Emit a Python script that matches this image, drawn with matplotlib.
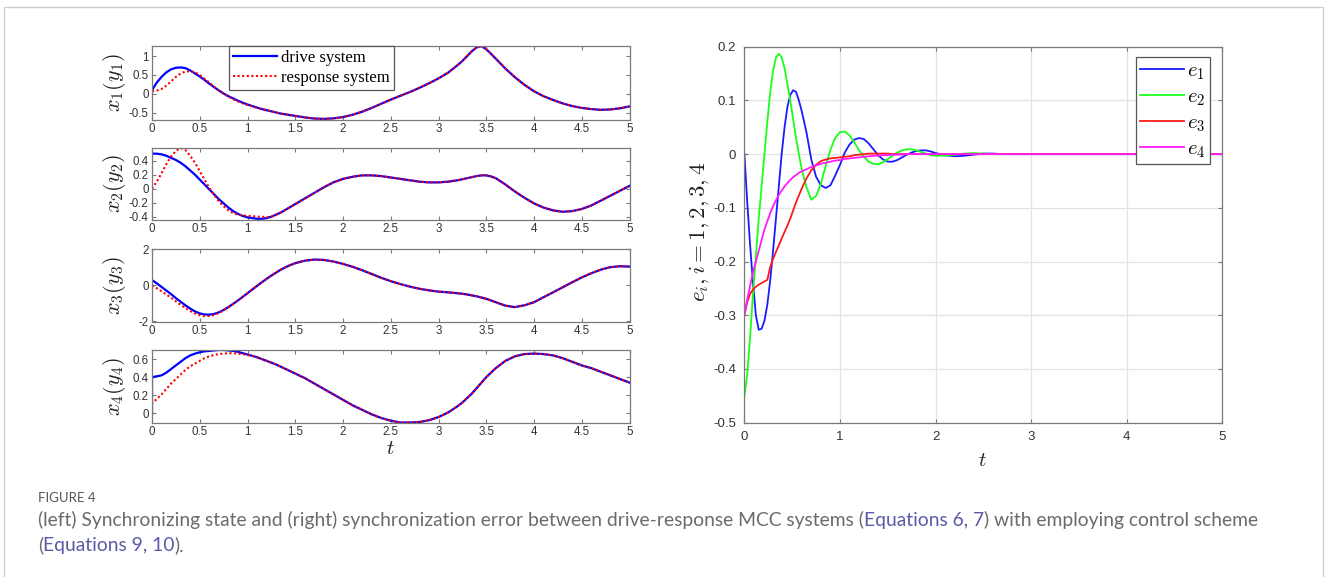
import matplotlib
matplotlib.use('Agg')
import matplotlib.pyplot as plt
from matplotlib.patches import Rectangle
from matplotlib.ticker import FuncFormatter

plt.rcParams['mathtext.fontset'] = 'cm'
plt.rcParams['font.family'] = ['Liberation Sans', 'DejaVu Sans']
plt.rcParams['axes.unicode_minus'] = False

W, H = 1327, 577

# ---------------- data: left panels (drive / response states) ----------------
T_L = [0.00, 0.05, 0.10, 0.15, 0.20, 0.25, 0.30, 0.35, 0.40, 0.45, 0.50, 0.55, 0.60, 0.65, 0.70, 0.75,
       0.80, 0.85, 0.90, 0.95, 1.00, 1.05, 1.10, 1.15, 1.20, 1.25, 1.30, 1.35, 1.40, 1.45, 1.50,
       1.6, 1.7, 1.8, 1.9, 2.0, 2.1, 2.2, 2.3, 2.4, 2.5, 2.6, 2.7, 2.8, 2.9, 3.0, 3.1, 3.2,
       3.25, 3.30, 3.35, 3.40, 3.45, 3.50, 3.55, 3.60,
       3.7, 3.8, 3.9, 4.0, 4.1, 4.2, 4.3, 4.4, 4.5, 4.6, 4.7, 4.8, 4.9, 5.0]

X1_DRIVE = [0.10, 0.30, 0.45, 0.57, 0.65, 0.69, 0.70, 0.68, 0.62, 0.54, 0.46, 0.37, 0.27, 0.18, 0.09, 0.01,
            -0.06, -0.12, -0.18, -0.23, -0.28, -0.32, -0.36, -0.40, -0.43, -0.46, -0.49, -0.52, -0.54, -0.56, -0.58,
            -0.62, -0.65, -0.66, -0.645, -0.61, -0.55, -0.47, -0.37, -0.26, -0.15, -0.05, 0.05, 0.16, 0.28, 0.41, 0.56, 0.76,
            0.87, 1.00, 1.13, 1.23, 1.26, 1.18, 1.06, 0.93,
            0.67, 0.44, 0.24, 0.07, -0.06, -0.16, -0.25, -0.32, -0.37, -0.40, -0.42, -0.41, -0.38, -0.33]
X1_RESP_EARLY = [0.07, 0.09, 0.13, 0.22, 0.33, 0.45, 0.54, 0.59, 0.60, 0.57, 0.50, 0.40, 0.30, 0.19, 0.09, 0.00,
                 -0.07, -0.14, -0.20, -0.25, -0.29, -0.33, -0.37, -0.40, -0.43, -0.46, -0.49, -0.52, -0.54, -0.56, -0.58]

X2_DRIVE = [0.50, 0.50, 0.49, 0.47, 0.44, 0.41, 0.37, 0.32, 0.26, 0.20, 0.13, 0.06, -0.01, -0.08, -0.15, -0.21,
            -0.27, -0.32, -0.36, -0.39, -0.41, -0.42, -0.43, -0.43, -0.42, -0.40, -0.37, -0.34, -0.30, -0.26, -0.22,
            -0.14, -0.06, 0.02, 0.09, 0.14, 0.17, 0.19, 0.19, 0.18, 0.16, 0.14, 0.12, 0.10, 0.09, 0.09, 0.10, 0.12,
            0.135, 0.15, 0.165, 0.18, 0.19, 0.19, 0.175, 0.15,
            0.06, -0.04, -0.13, -0.21, -0.27, -0.31, -0.33, -0.32, -0.29, -0.24, -0.17, -0.10, -0.03, 0.04]
X2_RESP_EARLY = [0.00, 0.10, 0.22, 0.35, 0.46, 0.54, 0.58, 0.55, 0.47, 0.37, 0.25, 0.13, 0.01, -0.09, -0.18, -0.25,
                 -0.31, -0.35, -0.37, -0.38, -0.39, -0.39, -0.40, -0.40, -0.41, -0.40, -0.37, -0.34, -0.30, -0.26, -0.22]

X3_DRIVE = [0.30, 0.12, -0.08, -0.28, -0.48, -0.70, -0.90, -1.10, -1.28, -1.44, -1.55, -1.61, -1.62, -1.58, -1.49, -1.36,
            -1.20, -1.02, -0.83, -0.63, -0.43, -0.22, -0.02, 0.18, 0.37, 0.55, 0.72, 0.88, 1.02, 1.14, 1.24,
            1.38, 1.44, 1.42, 1.33, 1.20, 1.04, 0.85, 0.64, 0.43, 0.24, 0.08, -0.06, -0.18, -0.27, -0.34, -0.38, -0.43,
            -0.46, -0.50, -0.55, -0.60, -0.67, -0.74, -0.83, -0.93,
            -1.12, -1.20, -1.10, -0.93, -0.65, -0.38, -0.10, 0.18, 0.45, 0.68, 0.88, 1.02, 1.07, 1.05]
X3_RESP_EARLY = [0.00, -0.15, -0.32, -0.50, -0.68, -0.88, -1.07, -1.25, -1.42, -1.55, -1.65, -1.70, -1.70, -1.64, -1.53, -1.38,
                 -1.21, -1.03, -0.83, -0.63, -0.43, -0.22, -0.02, 0.18, 0.37, 0.55, 0.72, 0.88, 1.02, 1.14, 1.24]

X4_DRIVE_T0 = 0.0
X4_DRIVE = [0.40, 0.41, 0.42, 0.45, 0.49, 0.53, 0.57, 0.61, 0.64, 0.66, 0.675, 0.685, 0.69, 0.695, 0.70, 0.70,
            0.695, 0.69, 0.68, 0.665, 0.65, 0.635, 0.62, 0.60, 0.58, 0.56, 0.54, 0.515, 0.49, 0.465, 0.44,
            0.39, 0.33, 0.27, 0.21, 0.15, 0.09, 0.04, -0.01, -0.05, -0.08, -0.10, -0.10, -0.095, -0.075, -0.04, 0.01, 0.08,
            0.12, 0.17, 0.22, 0.28, 0.34, 0.40, 0.45, 0.50,
            0.58, 0.63, 0.655, 0.66, 0.655, 0.64, 0.61, 0.57, 0.53, 0.50, 0.46, 0.42, 0.38, 0.34]
X4_RESP_T0 = 0.0
X4_RESP_EARLY = [0.11, 0.16, 0.21, 0.27, 0.33, 0.38, 0.43, 0.48, 0.52, 0.55, 0.58, 0.61, 0.63, 0.645, 0.655, 0.66,
                 0.665, 0.665, 0.66, 0.655, 0.645, 0.635, 0.62, 0.60, 0.58, 0.56, 0.54, 0.515, 0.49, 0.465, 0.44]

LEFT_YLABELS = [r'$x_1(y_1)$', r'$x_2(y_2)$', r'$x_3(y_3)$', r'$x_4(y_4)$']
LEFT_YTICKS = [[-0.5, 0, 0.5, 1], [-0.4, -0.2, 0, 0.2, 0.4], [-2, 0, 2], [0, 0.2, 0.4, 0.6]]
LEFT_YLIMS = [(-0.675, 1.265), (-0.44, 0.588), (-2, 2), (-0.1, 0.7)]
LEFT_XTICKS = [0, 0.5, 1, 1.5, 2, 2.5, 3, 3.5, 4, 4.5, 5]

# ---------------- data: right panel (synchronization errors) ----------------
T_E = [0.00, 0.03, 0.06, 0.09, 0.12, 0.15, 0.18, 0.21, 0.24, 0.27, 0.30, 0.33, 0.36, 0.39, 0.42, 0.45, 0.48, 0.51, 0.54, 0.57, 0.60,
       0.65, 0.70, 0.75, 0.80, 0.85, 0.90, 0.95, 1.00, 1.05, 1.10, 1.15, 1.20, 1.25, 1.30, 1.35, 1.40, 1.45, 1.50,
       1.55, 1.60, 1.65, 1.70, 1.75, 1.80, 1.85, 1.90, 1.95, 2.00,
       2.1, 2.2, 2.3, 2.4, 2.5, 2.6, 2.7, 2.8, 2.9, 3.0,
       3.5, 4.0, 4.5, 5.0]
E1 = [0.0, -0.09, -0.17, -0.24, -0.30, -0.327, -0.325, -0.31, -0.28, -0.235, -0.18, -0.12, -0.06, 0.0, 0.05, 0.088, 0.11, 0.119, 0.116, 0.10, 0.08,
      0.04, -0.01, -0.042, -0.058, -0.063, -0.058, -0.04, -0.02, 0.003, 0.018, 0.027, 0.03, 0.028, 0.02, 0.009, -0.002, -0.01, -0.014,
      -0.014, -0.011, -0.006, -0.001, 0.003, 0.006, 0.007, 0.007, 0.005, 0.002,
      -0.002, -0.004, -0.003, -0.001, 0.001, 0.001, 0.0, 0.0, 0.0, 0.0,
      0.0, 0.0, 0.0, 0.0]
E2 = [-0.45, -0.41, -0.34, -0.26, -0.19, -0.12, -0.06, 0.0, 0.06, 0.115, 0.155, 0.18, 0.187, 0.18, 0.16, 0.13, 0.10, 0.065, 0.03, 0.0, -0.028,
      -0.062, -0.085, -0.078, -0.055, -0.022, 0.008, 0.03, 0.041, 0.042, 0.035, 0.022, 0.007, -0.005, -0.014, -0.018, -0.019, -0.015, -0.009,
      -0.003, 0.003, 0.007, 0.009, 0.009, 0.007, 0.004, 0.001, -0.002, -0.003,
      -0.003, -0.001, 0.001, 0.002, 0.001, 0.0, 0.0, 0.0, 0.0, 0.0,
      0.0, 0.0, 0.0, 0.0]
E3 = [-0.30, -0.275, -0.26, -0.252, -0.247, -0.243, -0.24, -0.237, -0.234, -0.21, -0.195, -0.182, -0.17, -0.157, -0.145, -0.133, -0.12, -0.105, -0.09, -0.077, -0.064,
      -0.045, -0.03, -0.02, -0.013, -0.01, -0.008, -0.007, -0.006, -0.005, -0.004, -0.002, -0.001, 0.0, 0.001, 0.001, 0.001, 0.001, 0.001,
      0.0, 0.0, 0.0, 0.0, 0.0, 0.0, 0.0, 0.0, 0.0, 0.0,
      0.0, 0.0, 0.0, 0.0, 0.0, 0.0, 0.0, 0.0, 0.0, 0.0,
      0.0, 0.0, 0.0, 0.0]
E4 = [-0.30, -0.27, -0.245, -0.22, -0.20, -0.18, -0.16, -0.14, -0.125, -0.11, -0.097, -0.086, -0.076, -0.068, -0.06, -0.054, -0.048, -0.043, -0.039, -0.035, -0.032,
      -0.028, -0.024, -0.021, -0.018, -0.016, -0.014, -0.012, -0.011, -0.009, -0.008, -0.007, -0.006, -0.005, -0.004, -0.003, -0.003, -0.002, -0.002,
      -0.001, -0.001, -0.001, 0.0, 0.0, 0.0, 0.0, 0.0, 0.0, 0.0,
      0.0, 0.0, 0.0, 0.0, 0.0, 0.0, 0.0, 0.0, 0.0, 0.0,
      0.0, 0.0, 0.0, 0.0]
E_LABELS = [r'$e_1$', r'$e_2$', r'$e_3$', r'$e_4$']
E_COLORS = ['#1a1aff', '#1aff1a', '#ff1a1a', '#ff1aff']
E_YTICKS = [-0.5, -0.4, -0.3, -0.2, -0.1, 0, 0.1, 0.2]
E_XTICKS = [0, 1, 2, 3, 4, 5]

CAPTION_TITLE = 'FIGURE 4'
CAPTION_LINE1 = [('(left) Synchronizing state and (right) synchronization error between drive-response MCC systems (', 'text'),
                 ('Equations 6, 7', 'link'), (') with employing control scheme', 'text')]
CAPTION_LINE2 = [('(', 'text'), ('Equations 9, 10', 'link'), (').', 'text')]

# ---------------- figure ----------------
fig = plt.figure(figsize=(W / 100, H / 100), dpi=100)
fig.patches.append(Rectangle((4 / W, -0.02), (1323 - 4) / W, 1 - 7 / H + 0.02, transform=fig.transFigure,
                             fill=False, edgecolor='#cfcfcf', linewidth=1.0))

AX_COL = '#7a7a7a'
TXT_COL = '#333333'


def px_axes(x0, y0, x1, y1):
    return fig.add_axes([x0 / W, 1 - y1 / H, (x1 - x0) / W, (y1 - y0) / H])


def style(ax, fs, pad):
    for s in ax.spines.values():
        s.set_color(AX_COL)
        s.set_linewidth(0.9)
    ax.tick_params(direction='in', top=True, right=True, length=3, width=0.8, color=AX_COL,
                   labelsize=fs, labelcolor=TXT_COL, pad=pad)


fmt = FuncFormatter(lambda v, p: ('%g' % round(v, 6)))

left_boxes = [(152, 46, 629.5, 119.5), (152, 147.5, 629.5, 219.5), (152, 249.5, 629.5, 321.5), (152, 350, 629.5, 422.5)]
drive_sets = [X1_DRIVE, X2_DRIVE, X3_DRIVE, X4_DRIVE]
resp_sets = [X1_RESP_EARLY, X2_RESP_EARLY, X3_RESP_EARLY, X4_RESP_EARLY]
n_early = len(X1_RESP_EARLY)

for i, box in enumerate(left_boxes):
    ax = px_axes(*box)
    drive = list(drive_sets[i])
    resp = list(resp_sets[i]) + list(drive_sets[i][n_early:])
    td = list(T_L)
    tr = list(T_L)
    if i == 3:
        td = [0.0] + td
        drive = [X4_DRIVE_T0] + drive
        tr = [0.0] + tr
        resp = [X4_RESP_T0] + resp
    l1, = ax.plot(td, drive, color='#0000ff', lw=1.6, solid_joinstyle='round')
    l2, = ax.plot(tr, resp, color='#ff0000', lw=1.5, linestyle=(0, (1, 1.2)))
    ax.set_xlim(0, 5)
    ax.set_ylim(*LEFT_YLIMS[i])
    ax.set_xticks(LEFT_XTICKS)
    ax.set_yticks(LEFT_YTICKS[i])
    ax.xaxis.set_major_formatter(fmt)
    ax.yaxis.set_major_formatter(fmt)
    style(ax, 8.3, 2.5)
    yc = (box[1] + box[3]) / 2
    fig.text(115 / W, 1 - yc / H, LEFT_YLABELS[i], rotation=90, fontsize=16, ha='center', va='center', color='#222222')
    if i == 0:
        leg = fig.legend([l1, l2], ['drive system', 'response system'], loc='upper left',
                         bbox_to_anchor=(229 / W, 1 - 46 / H), bbox_transform=fig.transFigure,
                         prop={'family': 'Liberation Serif', 'size': 12}, fancybox=False, framealpha=1,
                         edgecolor='#555555', borderpad=0.25, labelspacing=0.2, handlelength=2.6,
                         handletextpad=0.25, borderaxespad=0)
        leg.get_frame().set_linewidth(0.9)

fig.text(390 / W, 1 - 448 / H, r'$t$', fontsize=15, ha='center', va='center', color='#222222')

# right panel
axr = px_axes(744.4, 46.7, 1222.3, 422.7)
for vals, lab, col in zip([E1, E2, E3, E4], E_LABELS, E_COLORS):
    axr.plot(T_E, vals, color=col, lw=1.3, label=lab)
axr.set_xlim(0, 5)
axr.set_ylim(-0.5, 0.2)
axr.set_xticks(E_XTICKS)
axr.set_yticks(E_YTICKS)
axr.xaxis.set_major_formatter(fmt)
axr.yaxis.set_major_formatter(fmt)
axr.grid(True, color='#e3e3e3', linewidth=0.9)
axr.set_axisbelow(True)
style(axr, 9.5, 6)
legr = axr.legend(loc='upper right', bbox_to_anchor=(1210 / W, 1 - 57 / H), bbox_transform=fig.transFigure,
                  prop={'size': 15}, fancybox=False, framealpha=1, edgecolor='#555555', borderpad=0.2,
                  labelspacing=0.26, handlelength=2.1, handletextpad=0.15, borderaxespad=0)
legr.get_frame().set_linewidth(0.9)
fig.text(699 / W, 1 - 232 / H, r'$e_i, i = 1, 2, 3, 4$', rotation=90, fontsize=16.5, ha='center', va='center',
         color='#222222')
fig.text(982 / W, 1 - 461 / H, r'$t$', fontsize=15, ha='center', va='center', color='#222222')

# ---------------- caption ----------------
CAP_FAMILY = 'Lato'
TEXT_COL = '#6b6b6b'
LINK_COL = '#5a5aa8'
renderer = fig.canvas.get_renderer()

probe = fig.text(0, 0, ''.join(s for s, _ in CAPTION_LINE1), fontsize=12, family=CAP_FAMILY)
w12 = probe.get_window_extent(renderer).width
probe.remove()
cap_size = 12 * (1252 - 38) / w12


def runs(x_px, y_px, parts):
    x = x_px
    for s, kind in parts:
        t = fig.text(x / W, 1 - y_px / H, s, fontsize=cap_size, family=CAP_FAMILY,
                     color=LINK_COL if kind == 'link' else TEXT_COL, ha='left', va='baseline')
        x += t.get_window_extent(renderer).width


fig.text(38 / W, 1 - 502 / H, CAPTION_TITLE, fontsize=9.5, family=CAP_FAMILY, color='#555555', ha='left',
         va='baseline')
runs(38, 526, CAPTION_LINE1)
runs(38, 551, CAPTION_LINE2)

fig.savefig('out.png', dpi=100)
